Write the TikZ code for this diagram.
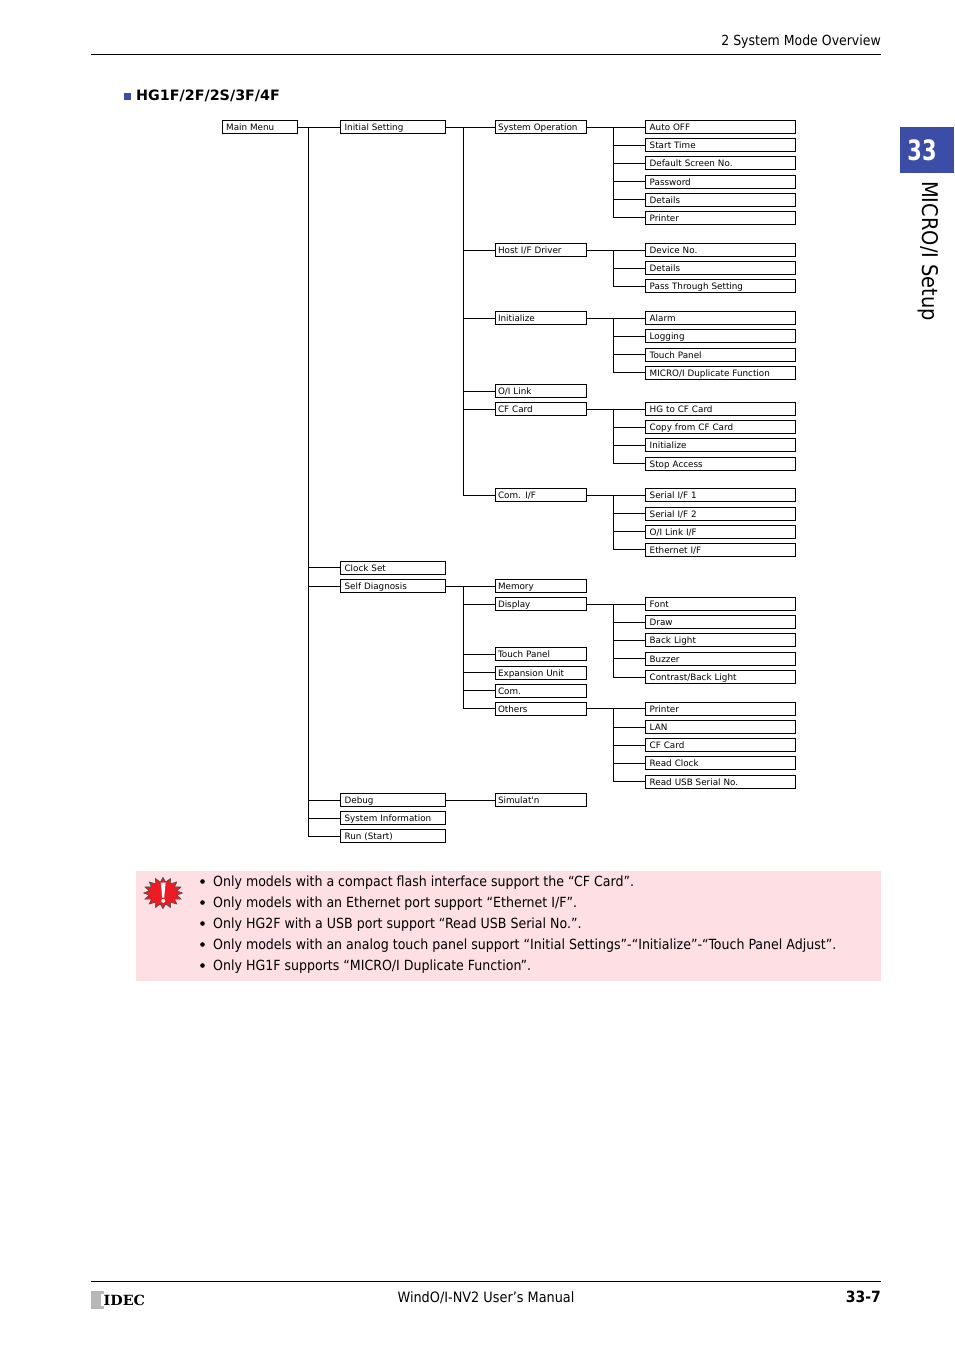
\documentclass[tikz,border=0pt]{standalone}
\usepackage{fontspec}
\setmainfont{DejaVu Sans Condensed}
\newfontfamily\boxfont{DejaVu Sans}
\newfontfamily\logofont{DejaVu Serif}
\usetikzlibrary{shapes.geometric}
\definecolor{idxblue}{HTML}{3B4DA6}
\definecolor{notepink}{HTML}{FDDFE4}
\definecolor{warnred}{HTML}{ED1C24}
\newcommand{\boxtext}{\fontsize{8.8}{10}\selectfont\boxfont}
\tikzset{
  x=1pt,y=-1pt,
  treebox/.style={draw=black,line width=.8pt,fill=white,anchor=west,inner sep=0pt,minimum height=13pt,align=left,font=\boxtext,text depth=0pt,text height=7pt},
  wmain/.style={treebox,text width=67.4pt,inner xsep=3.8pt},
  wb/.style={treebox,text width=96.6pt,inner xsep=4.2pt},
  wc/.style={treebox,text width=85.8pt,inner xsep=2.6pt},
  wd/.style={treebox,text width=141.4pt,inner xsep=4.3pt},
  link/.style={line width=.8pt,black},
  rule/.style={line width=.8pt,black},
  bodyt/.style={anchor=base west,inner sep=0pt,font=\fontsize{14}{17}\selectfont},
  bul/.style={circle,fill=black,inner sep=0pt,minimum size=4.6pt}
}
\begin{document}
\begin{tikzpicture}
\useasboundingbox (0,0) rectangle (954,1350);
% header / footer
\coordinate (hl) at (91,54.5); \coordinate (hr) at (881,54.5);
\draw[rule] (hl) -- (hr);
\node[anchor=base east,inner sep=0pt,font=\fontsize{13.9}{17}\selectfont] (hdr) at (881,45) {2 System Mode Overview};
\coordinate (fl) at (91,1281.5); \coordinate (fr) at (881,1281.5);
\draw[rule] (fl) -- (fr);
\node[anchor=base,inner sep=0pt,font=\fontsize{14.3}{17}\selectfont] (ftr) at (486,1302) {WindO/I-NV2 User's Manual};
\node[anchor=base east,inner sep=0pt,font=\fontsize{15.5}{17}\selectfont\bfseries] (pg) at (881,1302) {33-7};
\fill[black!28] (91,1290.5) rectangle (104,1308.5);
\fill[white] (101,1293.5) rectangle (104,1305.5);
\node[anchor=base west,inner sep=0pt,font=\fontsize{14}{17}\selectfont\logofont\bfseries,xscale=1.02] (logo) at (103.5,1305) {IDEC};
% side tab
\fill[idxblue] (900,127) rectangle (954,173);
\node[text=white,inner sep=0pt,xscale=.83,font=\fontsize{28}{30}\selectfont\bfseries] (tabn) at (922,150) {33};
\node[rotate=-90,anchor=west,inner sep=0pt,font=\fontsize{21.6}{23}\selectfont] (tabt) at (928.5,181) {MICRO/I Setup};
% title
\fill[idxblue] (123.5,93) rectangle (130.5,100);
\node[anchor=base west,inner sep=0pt,font=\fontsize{14.3}{17}\selectfont\boxfont\bfseries] (ttl) at (136,100) {HG1F/2F/2S/3F/4F};
% level 1-2
\node[wmain] (main) at (222,127) {Main Menu};
\node[wb] (init) at (340,127) {Initial Setting};
\node[wb] (clock) at (340,567.5) {Clock Set};
\node[wb] (self) at (340,586) {Self Diagnosis};
\node[wb] (debug) at (340,800) {Debug};
\node[wb] (sysinf) at (340,818) {System Information};
\node[wb] (run) at (340,836) {Run (Start)};
% level 3
\node[wc] (sysop) at (495,127) {System Operation};
\node[wc] (host) at (495,250) {Host I/F Driver};
\node[wc] (inz) at (495,318) {Initialize};
\node[wc] (oi) at (495,391) {O/I Link};
\node[wc] (cf) at (495,409) {CF Card};
\node[wc] (com) at (495,495) {Com. I/F};
\node[wc] (mem) at (495,586) {Memory};
\node[wc] (disp) at (495,604) {Display};
\node[wc] (tp) at (495,654) {Touch Panel};
\node[wc] (exp) at (495,672.5) {Expansion Unit};
\node[wc] (comb) at (495,690.5) {Com.};
\node[wc] (oth) at (495,708.5) {Others};
\node[wc] (sim) at (495,800) {Simulat'n};
% level 4
\node[wd] (a1) at (645,127) {Auto OFF};
\node[wd] (a2) at (645,145) {Start Time};
\node[wd] (a3) at (645,163) {Default Screen No.};
\node[wd] (a4) at (645,181.5) {Password};
\node[wd] (a5) at (645,199.5) {Details};
\node[wd] (a6) at (645,217.5) {Printer};
\node[wd] (b1) at (645,250) {Device No.};
\node[wd] (b2) at (645,268) {Details};
\node[wd] (b3) at (645,286) {Pass Through Setting};
\node[wd] (c1) at (645,318) {Alarm};
\node[wd] (c2) at (645,336) {Logging};
\node[wd] (c3) at (645,354.5) {Touch Panel};
\node[wd] (c4) at (645,372.5) {MICRO/I Duplicate Function};
\node[wd] (d1) at (645,409) {HG to CF Card};
\node[wd] (d2) at (645,427) {Copy from CF Card};
\node[wd] (d3) at (645,445) {Initialize};
\node[wd] (d4) at (645,463.5) {Stop Access};
\node[wd] (e1) at (645,495) {Serial I/F 1};
\node[wd] (e2) at (645,513.5) {Serial I/F 2};
\node[wd] (e3) at (645,531.5) {O/I Link I/F};
\node[wd] (e4) at (645,549.5) {Ethernet I/F};
\node[wd] (f1) at (645,604) {Font};
\node[wd] (f2) at (645,622) {Draw};
\node[wd] (f3) at (645,640) {Back Light};
\node[wd] (f4) at (645,658.5) {Buzzer};
\node[wd] (f5) at (645,677) {Contrast/Back Light};
\node[wd] (g1) at (645,708.5) {Printer};
\node[wd] (g2) at (645,727) {LAN};
\node[wd] (g3) at (645,745) {CF Card};
\node[wd] (g4) at (645,763) {Read Clock};
\node[wd] (g5) at (645,781.5) {Read USB Serial No.};
% trunks
\coordinate (t1) at (308.5,127);
\coordinate (t2) at (463.5,127);
\coordinate (t3) at (463.5,586);
\coordinate (ta) at (613.5,127);
\coordinate (tb) at (613.5,250);
\coordinate (tc) at (613.5,318);
\coordinate (td) at (613.5,409);
\coordinate (te) at (613.5,495);
\coordinate (tf) at (613.5,604);
\coordinate (tg) at (613.5,708.5);
\draw[link] (main.east) -- (init.west);
\foreach \n in {clock,self,debug,sysinf,run} \draw[link] (t1) |- (\n.west);
\draw[link] (init.east) -- (sysop.west);
\foreach \n in {host,inz,oi,cf,com} \draw[link] (t2) |- (\n.west);
\draw[link] (self.east) -- (mem.west);
\foreach \n in {disp,tp,exp,comb,oth} \draw[link] (t3) |- (\n.west);
\draw[link] (debug.east) -- (sim.west);
\draw[link] (sysop.east) -- (a1.west);
\foreach \n in {a2,a3,a4,a5,a6} \draw[link] (ta) |- (\n.west);
\draw[link] (host.east) -- (b1.west);
\foreach \n in {b2,b3} \draw[link] (tb) |- (\n.west);
\draw[link] (inz.east) -- (c1.west);
\foreach \n in {c2,c3,c4} \draw[link] (tc) |- (\n.west);
\draw[link] (cf.east) -- (d1.west);
\foreach \n in {d2,d3,d4} \draw[link] (td) |- (\n.west);
\draw[link] (com.east) -- (e1.west);
\foreach \n in {e2,e3,e4} \draw[link] (te) |- (\n.west);
\draw[link] (disp.east) -- (f1.west);
\foreach \n in {f2,f3,f4,f5} \draw[link] (tf) |- (\n.west);
\draw[link] (oth.east) -- (g1.west);
\foreach \n in {g2,g3,g4,g5} \draw[link] (tg) |- (\n.west);
% note
\fill[notepink] (136,871) rectangle (881,981);
\node[star,star points=16,star point ratio=1.4,draw=black!70,fill=warnred,line width=.6pt,minimum size=39pt,inner sep=0pt,yscale=.8,transform shape] (warn) at (163,893) {};
\fill[white] (160.8,882.5) -- (165.6,882.5) -- (164.2,897.5) -- (162.2,897.5) -- cycle;
\fill[white] (163.2,900.8) circle (2);
\node[bul] (b1n) at (202.5,881.5) {};
\node[bul] (b2n) at (202.5,902.5) {};
\node[bul] (b3n) at (202.5,923.5) {};
\node[bul] (b4n) at (202.5,944.5) {};
\node[bul] (b5n) at (202.5,965.5) {};
\node[bodyt] (n1) at (213,886.5) {Only models with a compact flash interface support the “CF Card”.};
\node[bodyt] (n2) at (213,907.5) {Only models with an Ethernet port support “Ethernet I/F”.};
\node[bodyt] (n3) at (213,928.5) {Only HG2F with a USB port support “Read USB Serial No.”.};
\node[bodyt] (n4) at (213,949.5) {Only models with an analog touch panel support “Initial Settings”-“Initialize”-“Touch Panel Adjust”.};
\node[bodyt] (n5) at (213,970.5) {Only HG1F supports “MICRO/I Duplicate Function”.};
\end{tikzpicture}
\end{document}
